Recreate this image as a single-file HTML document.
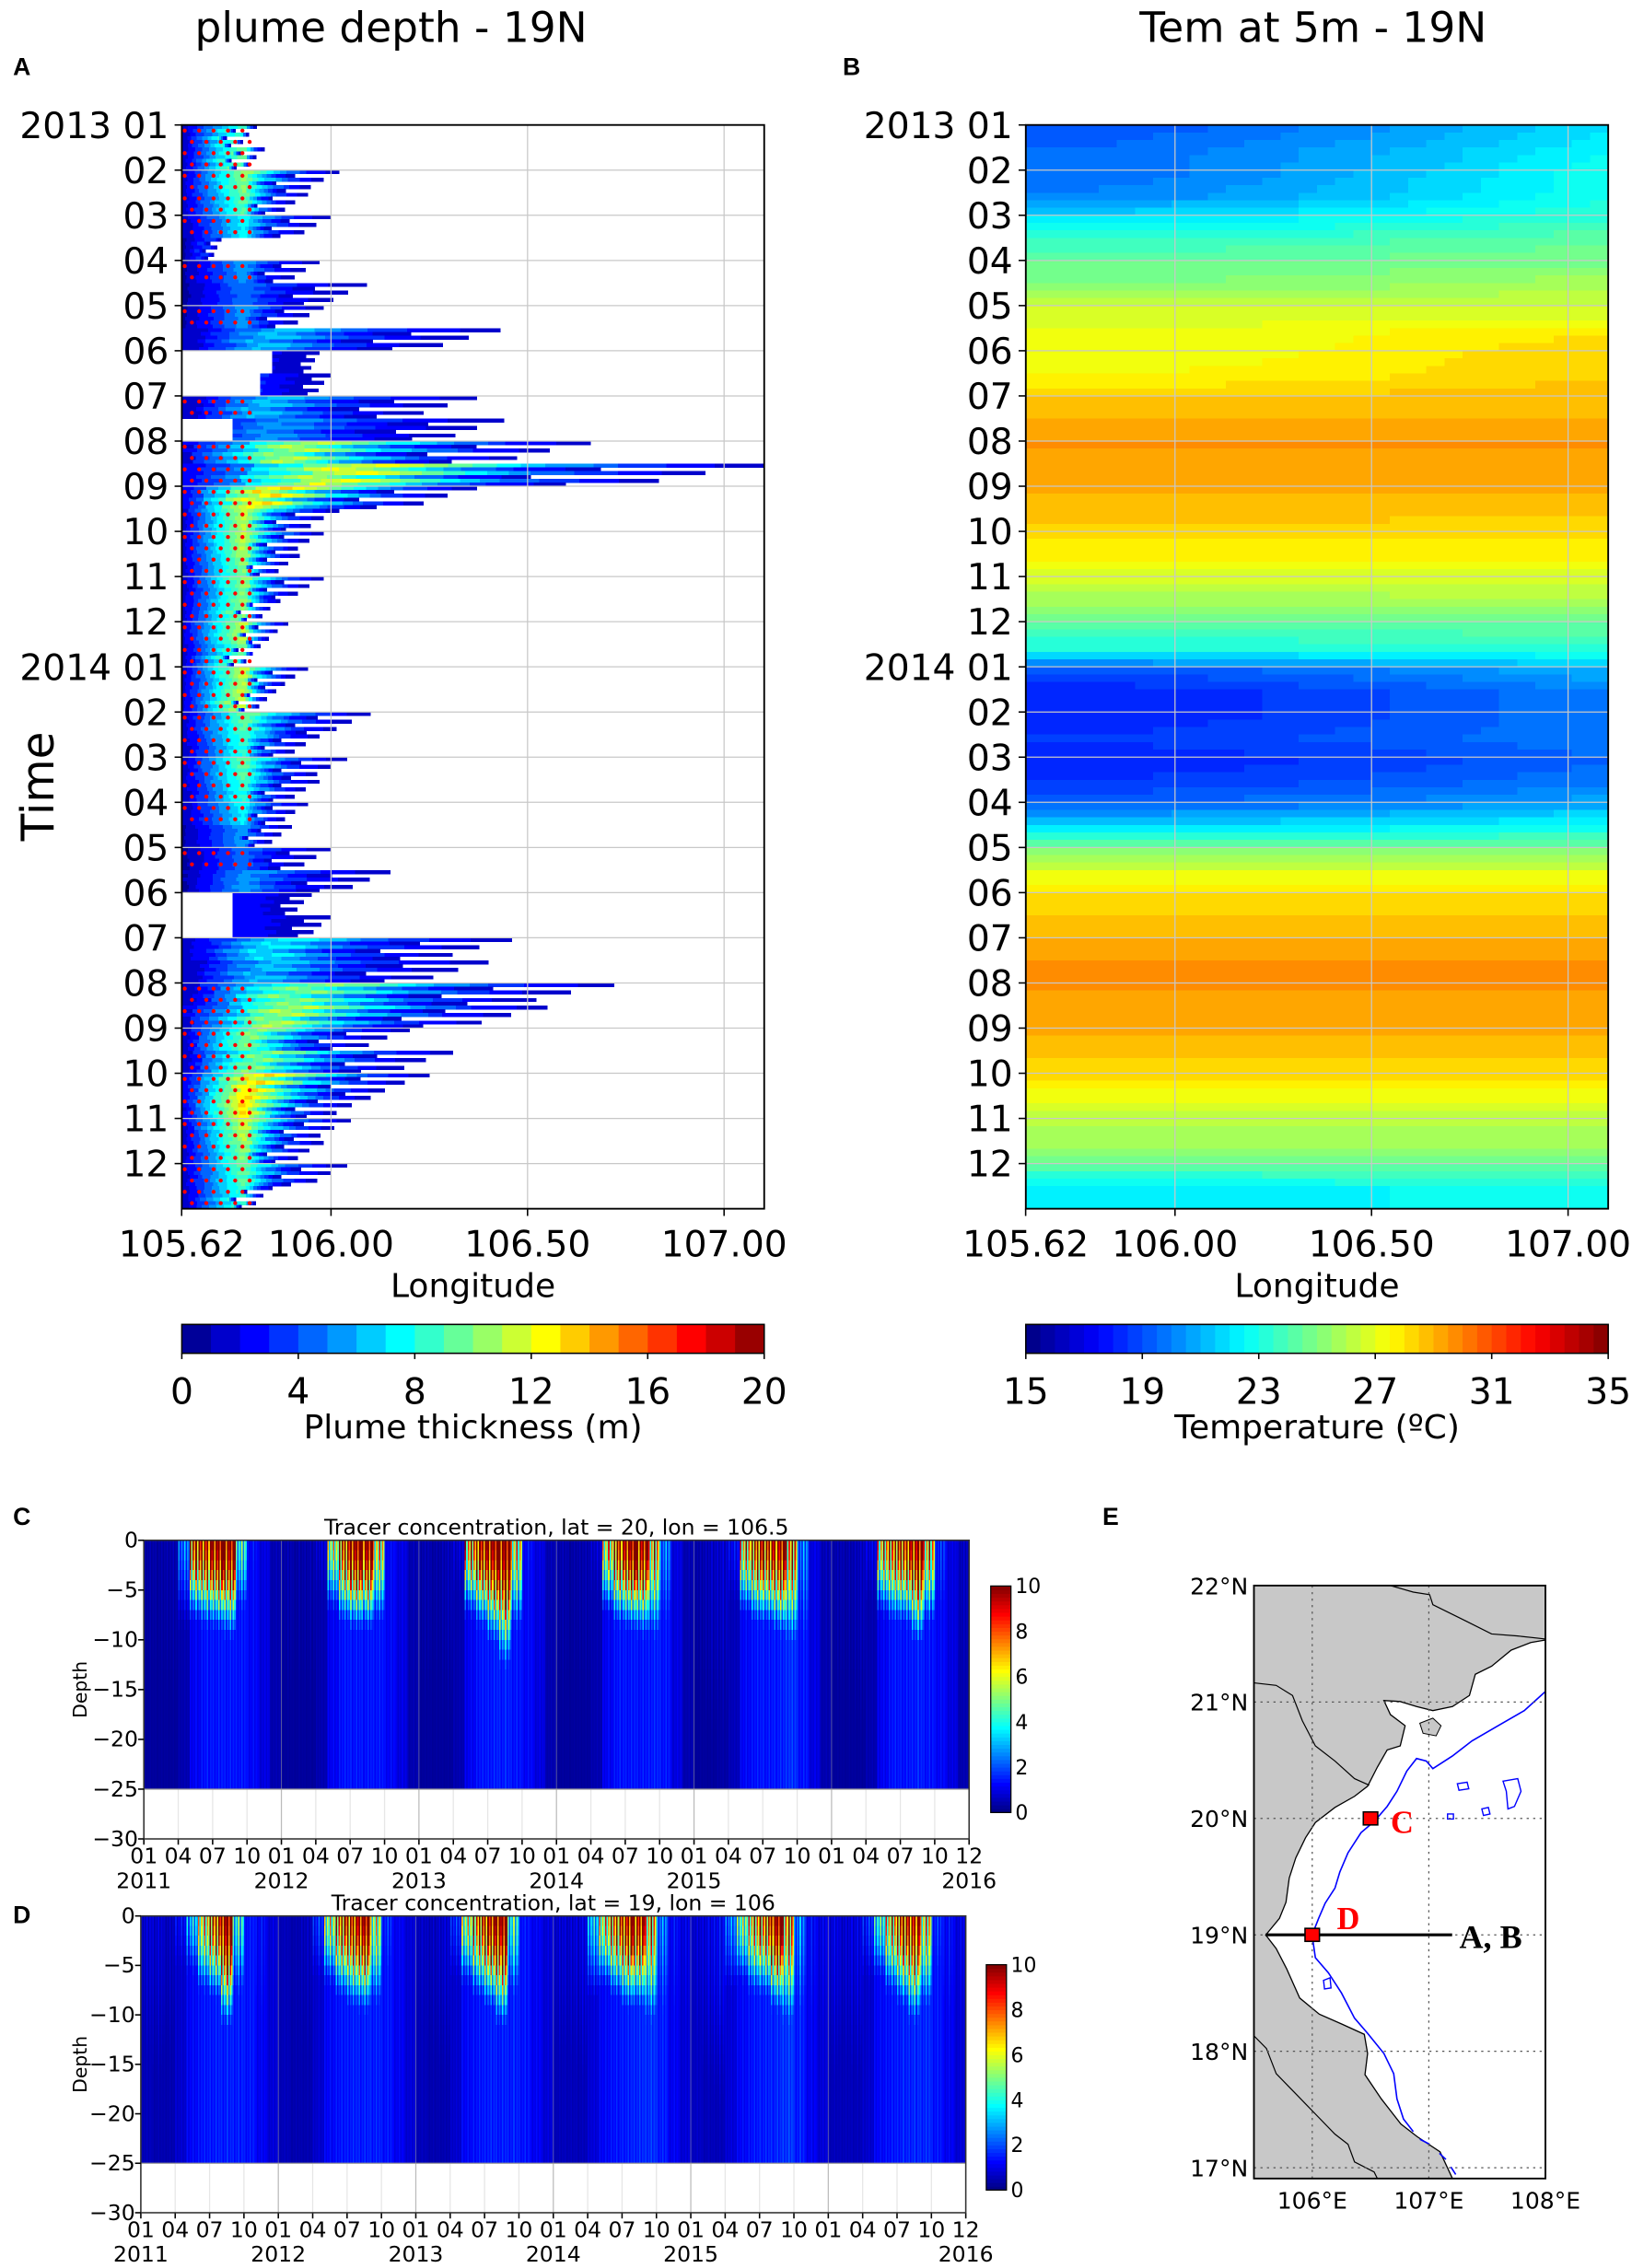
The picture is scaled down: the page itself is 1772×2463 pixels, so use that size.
<!DOCTYPE html>
<html><head><meta charset="utf-8"><title>Plume figure</title>
<style>
html,body{margin:0;padding:0;background:#fff;}
svg{display:block;font-family:"Liberation Sans","DejaVu Sans",sans-serif;}
</style></head>
<body>
<svg id="fig" xmlns="http://www.w3.org/2000/svg" width="1772" height="2463" viewBox="0 0 1131 1572">
  <rect x="0" y="0" width="1131" height="1572" fill="#fff"/>
  <text x="271" y="29" font-size="29" text-anchor="middle" font-family="DejaVu Sans, sans-serif">plume depth - 19N</text>
  <text x="910" y="29" font-size="29" text-anchor="middle" font-family="DejaVu Sans, sans-serif">Tem at 5m - 19N</text>
  <text x="9" y="52" font-size="17" font-weight="bold">A</text>
  <text x="584" y="52" font-size="17" font-weight="bold">B</text>
  <text x="9" y="1057" font-size="17" font-weight="bold">C</text>
  <text x="9" y="1333" font-size="17" font-weight="bold">D</text>
  <text x="764" y="1057" font-size="17" font-weight="bold">E</text>
  <text transform="translate(37,545) rotate(-90)" font-size="31" text-anchor="middle" font-family="DejaVu Sans, sans-serif">Time</text>
  <g id="gA"></g>
  <g id="gB"></g>
  <g id="gC"></g>
  <g id="gD"></g>
  <g id="gE"></g>
</svg>
<script>
// ---------- DATA ----------
const plumeExtent = [105.81,105.83,106.02,105.94,106.0,105.72,105.97,106.09,105.98,106.43,105.97,106.0,
  106.37,106.44,106.66,107.1,106.37,106.02,105.98,105.92,105.98,105.87,105.89,105.82,
  105.94,105.86,106.1,105.97,106.04,105.97,105.94,105.9,106.0,106.15,105.95,106.0,
  106.46,106.4,106.72,106.55,106.2,106.31,106.25,106.1,106.05,105.98,106.04,105.85];
const plumePeak = [9,10,11,10,8,4,6,5,6,7,3,4, 7,6,12,13,14,12,12,11,11,11,12,10,
  12,12,10,9,10,9,8,6,5,6,3,3, 8,7,11,12,11,11,14,14,12,11,10,9];
const plumeStart = [105.62,105.62,105.62,105.62,105.62,105.62,105.62,105.62,105.62,105.62,105.85,105.82,
  105.62,105.75,105.62,105.62,105.62,105.62,105.62,105.62,105.62,105.62,105.62,105.62,
  105.62,105.62,105.62,105.62,105.62,105.62,105.62,105.62,105.62,105.62,105.75,105.75,
  105.62,105.62,105.62,105.62,105.62,105.62,105.62,105.62,105.62,105.62,105.62,105.62];
const plumeDots = [1,1,1,1,1,0,1,0,1,0,0,0, 1,0,1,1,1,1,1,1,1,1,1,1,
  1,1,1,1,1,1,1,0,1,0,0,0, 0,0,1,1,1,1,1,1,1,1,1,1];
const tempWest = [19,19.5,19.5,20,22,23.5,24.5,25,26.5,27,27,27.5,28.5,29,29.5,29,29,29,28,27.5,26.5,25.5,24,23,
  19,18,18,18.5,18,18.5,19.5,22,25,27,28,28.5,29,29.5,29.5,29,29,28.5,28,27,26,25.5,24,22];
const tempEast = [22,22.5,23,23,23.5,24.5,25,26,26.5,28,28.5,28.5,29,29,29.5,29.5,29,28.5,28,27.5,26.5,26,24.5,23.5,
  21,20,20,20,19.5,20,21,23,25,27,28.5,28.5,29,29.5,29.5,29,29,28.5,28,27,26,25.5,24.5,23];
const monthLabelsA = ["2013 01","02","03","04","05","06","07","08","09","10","11","12",
  "2014 01","02","03","04","05","06","07","08","09","10","11","12"];
const lonTicks = [105.62,106.0,106.5,107.0];
const lonTickLabels = ["105.62","106.00","106.50","107.00"];
const thickTicks = [0,4,8,12,16,20];
const tempTicks = [15,19,23,27,31,35];
const tracerC = [0.5,0.5,0.6,3,12,14,16,16,5,1.5,0.8,0.6, 0.6,0.5,0.6,1,7,12,16,16,8,1.2,0.7,0.6,
  0.6,0.5,0.7,1,10,14,16,16,8,1.5,0.8,0.6, 0.6,0.5,0.6,1,8,13,16,15,9,3,0.8,0.6,
  0.6,0.8,1,1.5,9,12,13,15,10,3,1,0.7, 0.6,0.6,0.8,1.2,9,11,13,15,9,2,1,0.8];
const tracerD = [1,1,0.8,1.5,4,8,12,16,5,1.5,1.5,1, 0.5,0.5,0.8,2,7,11,13,16,7,2,1,0.8,
  0.8,0.8,1,2,7,11,14,16,5,1.5,1.2,1, 1,1,1.2,4,8,11,14,14,9,3,1.5,1.2,
  1,1.2,1.5,3,6,9,11,16,10,3,1.5,1.2, 1.2,1,1.2,2,5,9,12,14,8,2,1.5,1.2];
const penC = [20,20,20,7,5.5,6,6,6.5,6.5,9,20,20, 20,20,20,7,5.5,6,6,6,6.5,9,20,20, 20,20,20,7,5.5,6,7,8.5,7,9,20,20,
  20,20,20,7,5.5,6,6,6.5,7.5,10,20,20, 20,20,20,7,5.5,6,6,6.5,8,12,20,20, 20,20,20,7,5.5,6,6,7,6.5,10,20,20];
const penD = [20,20,20,7,5.5,6,6,7.5,7.5,10,20,20, 20,20,20,7,5.5,6,6.5,6.5,7.5,10,20,20, 20,20,20,7,5.5,6,6.5,7.5,7.5,10,20,20,
  20,20,20,7,5.5,6,6.5,6.5,8.5,12,20,20, 20,20,20,7,5.5,6,6,6.5,8.5,12,20,20, 20,20,20,7,5.5,6,6.5,7.5,7.5,10,20,20];
const deepC = [0.3,0.3,0.3,0.5,1.2,1.5,1.5,1.5,1.5,1.3,1.0,0.5, 0.3,0.3,0.3,0.5,1.2,1.5,1.5,1.5,1.5,1.3,1.0,0.5,
  0.3,0.3,0.3,0.5,1.2,1.5,1.6,1.6,1.5,1.3,1.0,0.5, 0.3,0.3,0.3,0.5,1.2,1.5,1.5,1.5,1.6,1.5,1.0,0.5,
  0.3,0.3,0.4,0.6,1.3,1.5,1.5,1.6,1.8,1.5,1.0,0.5, 0.3,0.3,0.3,0.5,1.2,1.5,1.5,1.6,1.5,1.3,1.0,0.5];
const deepD = [0.6,0.5,0.5,0.8,1.3,1.5,1.6,1.6,1.6,1.5,1.2,0.9, 0.6,0.5,0.5,0.8,1.3,1.5,1.6,1.6,1.6,1.5,1.2,0.9,
  0.6,0.5,0.5,0.8,1.3,1.5,1.6,1.6,1.6,1.5,1.2,0.9, 0.6,0.6,0.6,0.9,1.3,1.5,1.6,1.7,1.8,1.6,1.2,0.9,
  0.7,0.6,0.6,0.9,1.3,1.5,1.6,1.7,1.9,1.6,1.2,0.9, 0.6,0.6,0.6,0.8,1.3,1.5,1.6,1.7,1.7,1.5,1.2,0.9];
const dateTickLabels = ["01","04","07","10","01","04","07","10","01","04","07","10","01","04","07","10","01","04","07","10","01","04","07","10","12"];
const dateTickMonths = [0,3,6,9,12,15,18,21,24,27,30,33,36,39,42,45,48,51,54,57,60,63,66,69,71];
const yearLabels = ["2011","2012","2013","2014","2015","2016"];
const yearLabelMonths = [0,12,24,36,48,71];
const depthTicks = [0,-5,-10,-15,-20,-25,-30];
const tracerTicks = [0,2,4,6,8,10];

// ---------- helpers ----------
const NS='http://www.w3.org/2000/svg';
function mk(tag, attrs, parent){const e=document.createElementNS(NS,tag);for(const k in attrs)e.setAttribute(k,attrs[k]);parent.appendChild(e);return e;}
function cl(v){return Math.max(0,Math.min(1,v));}
function jet(t){t=cl(t);const r=cl(1.5-Math.abs(4*t-3)),g=cl(1.5-Math.abs(4*t-2)),b=cl(1.5-Math.abs(4*t-1));
  return 'rgb('+Math.round(r*255)+','+Math.round(g*255)+','+Math.round(b*255)+')';}
function jetD(t,n){t=cl(t);const k=Math.min(n-1,Math.floor(t*n));return jet((k+0.5)/n);}

const Y0=86.6, MH=31.3;
function yMonth(m){return Y0+m*MH;}
const AX0=126, AX1=529.6, BOFF=584.9;
function xLon(l){return 229.4+(l-106)*272.4;}

function axesAB(g, off, nm){
  const yb=yMonth(24);
  for(let m=1;m<24;m++){const l=mk('line',{x1:AX0+off,x2:AX1+off,y1:yMonth(m),y2:yMonth(m),stroke:'#c8c8c8','stroke-width':0.8},g);
    
    }
  for(let i=1;i<lonTicks.length;i++){const x=xLon(lonTicks[i])+off;const l=mk('line',{x1:x,x2:x,y1:Y0,y2:yb,stroke:'#c8c8c8','stroke-width':0.8},g);
    
    }
  const fr=mk('rect',{x:AX0+off,y:Y0,width:AX1-AX0,height:yb-Y0,fill:'none',stroke:'#000','stroke-width':1.2},g);
  
  
  for(let m=0;m<24;m++){
    const t=mk('line',{x1:AX0+off-5,x2:AX0+off,y1:yMonth(m),y2:yMonth(m),stroke:'#000','stroke-width':1},g);
    
    
    const tx=mk('text',{x:AX0+off-9,y:yMonth(m)+9,'font-size':25,'text-anchor':'end','font-family':'DejaVu Sans, sans-serif'},g);
    tx.textContent=monthLabelsA[m];
    
    
  }
  for(let i=0;i<lonTicks.length;i++){const x=xLon(lonTicks[i])+off;
    const t=mk('line',{x1:x,x2:x,y1:yb,y2:yb+5,stroke:'#000'},g);
    
    
    const tx=mk('text',{x:x,y:871,'font-size':25,'text-anchor':'middle','font-family':'DejaVu Sans, sans-serif'},g);
    tx.textContent=lonTickLabels[i];
    
    }
  const xl=mk('text',{x:(AX0+AX1)/2+off,y:899,'font-size':23,'text-anchor':'middle','font-family':'DejaVu Sans, sans-serif'},g);
  xl.textContent='Longitude';
  
  
}

function colorbar(g,off,nm,lo,hi,n,ticks,title){
  const cx0=AX0+off, cw=AX1-AX0, cy=918, ch=20;
  for(let k=0;k<n;k++){const r=mk('rect',{x:cx0+k*cw/n,y:cy,width:cw/n+0.4,height:ch,fill:jet((k+0.5)/n)},g);
    
    }
  const f=mk('rect',{x:cx0,y:cy,width:cw,height:ch,fill:'none',stroke:'#000','stroke-width':1},g);
  
  
  ticks.forEach(v=>{const x=cx0+(v-lo)/(hi-lo)*cw;
    const t=mk('line',{x1:x,x2:x,y1:cy+ch,y2:cy+ch+4,stroke:'#000'},g);
    
    
    const tx=mk('text',{x:x,y:973,'font-size':25,'text-anchor':'middle','font-family':'DejaVu Sans, sans-serif'},g);
    tx.textContent=String(v);
    
    });
  const tt=mk('text',{x:cx0+cw/2,y:997,'font-size':23,'text-anchor':'middle','font-family':'DejaVu Sans, sans-serif'},g);
  tt.textContent=title;
  
  
}

// ---------- Panel A ----------
(function(){
  const g=document.getElementById('gA');
  const hm=mk('g',{'shape-rendering':'crispEdges'},g);
  
  
  const subF=[1,0.72,0.9,0.6,0.82,0.66];
  const NSUB=subF.length;
  const rowH=MH/2, subH=rowH/NSUB, NSEG=24;
  for(let i=0;i<plumeExtent.length;i++){
    for(let s=0;s<NSUB;s++){
      const st=plumeStart[i], E=st+(plumeExtent[i]-st)*subF[s];
      const P=plumePeak[i]*(0.8+0.2*subF[s]);
      const pk=Math.min(E-0.02, Math.max(105.78, 105.62+0.35*(E-105.62)));
      const y=Y0+i*rowH+s*subH;
      for(let k=0;k<NSEG;k++){
        const a=st+(E-st)*k/NSEG, b=st+(E-st)*(k+1)/NSEG, mid=(a+b)/2;
        let t;
        if(mid<pk) t=P*(0.12+0.88*(mid-105.62)/Math.max(0.01,pk-105.62));
        else t=1.5+(P-1.5)*Math.pow(1-(mid-pk)/Math.max(0.01,E-pk),1.6);
        const r=mk('rect',{x:xLon(a),y:y,width:xLon(b)-xLon(a)+0.3,height:subH+0.2,fill:jetD(t/20,20)},hm);
        
        
      }
    }
    if(plumeDots[i]){
      for(let s=0;s<2;s++){
        const y=Y0+i*rowH+rowH*(0.25+0.5*s);
        for(let dx=128+(s?5:0);dx<Math.min(176,xLon(plumeExtent[i])-4);dx+=10){
          const c=mk('circle',{cx:dx,cy:y,r:1.4,fill:'#ff0000'},g);
          
          
        }
      }
    }
  }
  axesAB(g,0,'panel-a');
  colorbar(g,0,'plume-thickness',0,20,20,thickTicks,'Plume thickness (m)');
})();

// ---------- Panel B ----------
(function(){
  const g=document.getElementById('gB');
  const hm=mk('g',{'shape-rendering':'crispEdges'},g);
  
  
  const rowH=MH/2, NC=32, NS2=3;
  for(let i=0;i<tempWest.length;i++){
    const j=Math.min(tempWest.length-1,i+1);
    for(let s=0;s<NS2;s++){
      const f=s/NS2;
      const w=tempWest[i]+(tempWest[j]-tempWest[i])*f, e=tempEast[i]+(tempEast[j]-tempEast[i])*f;
      for(let c=0;c<NC;c++){
        const fr=(c+0.5)/NC;
        const T=w+(e-w)*Math.pow(fr,1.5);
        const r=mk('rect',{x:AX0+BOFF+c*(AX1-AX0)/NC,y:Y0+i*rowH+s*rowH/NS2,width:(AX1-AX0)/NC+0.3,height:rowH/NS2+0.3,fill:jetD((T-15)/20,40)},hm);
        
        
      }
    }
  }
  axesAB(g,BOFF,'panel-b');
  colorbar(g,BOFF,'temperature',15,35,40,tempTicks,'Temperature (ºC)');
})();

// ---------- Panels C & D ----------
function tracerPanel(gid, vals, pen, deep, L, R, top, bot30, title, cb, nm){
  const g=document.getElementById(gid);
  const xM=m=>L+(R-L)*m/72;
  const yD=d=>top+(bot30-top)*(d/-30);
  const hm=mk('g',{'shape-rendering':'crispEdges'},g);
  
  
  const stripeF=[1,0.45,0.85,0.6,1.15,0.5,0.95,0.7];
  const NSt=stripeF.length;
  for(let m=0;m<72;m++){
    for(let s=0;s<NSt;s++){
      const x=xM(m+s/NSt), w=xM(m+(s+1)/NSt)-x;
      const f=stripeF[s];
      for(let d=0;d<25;d++){
        let v=vals[m]*f*Math.exp(-Math.pow((d+0.5)/pen[m],2));
        v=Math.max(v, deep[m]*(0.55+0.5*f));
        const r=mk('rect',{x:x,y:yD(-d),width:w+0.2,height:yD(-d-1)-yD(-d)+0.2,fill:jet(v/10)},hm);
        
        
      }
    }
  }
  dateTickMonths.forEach((m,i)=>{const x=xM(m+(m===71?1:0));
    const gl=mk('line',{x1:x,x2:x,y1:yD(-25),y2:bot30,stroke:(m%12===0)?'#bbb':'#e6e6e6','stroke-width':0.8},g);
    
    
    const t=mk('line',{x1:x,x2:x,y1:bot30,y2:bot30+4,stroke:'#000'},g);
    
    
    const tx=mk('text',{x:x,y:bot30+17,'font-size':15,'text-anchor':'middle','font-family':'DejaVu Sans, sans-serif'},g);
    tx.textContent=dateTickLabels[i];
    
    });
  yearLabelMonths.forEach((m,i)=>{const x=xM(m+(m===71?1:0));
    const tx=mk('text',{x:x,y:bot30+34,'font-size':15,'text-anchor':'middle','font-family':'DejaVu Sans, sans-serif'},g);
    tx.textContent=yearLabels[i];
    
    });
  for(let y=1;y<6;y++){const x=xM(12*y);
    const l=mk('line',{x1:x,x2:x,y1:top,y2:yD(-25),stroke:'#999','stroke-width':0.6,opacity:0.6},g);
    
    }
  const ln=mk('line',{x1:L,x2:R,y1:yD(-25),y2:yD(-25),stroke:'#999','stroke-width':0.8},g);
  
  
  const fr=mk('rect',{x:L,y:top,width:R-L,height:bot30-top,fill:'none',stroke:'#333','stroke-width':1},g);
  
  
  depthTicks.forEach(d=>{const y=yD(d);
    const t=mk('line',{x1:L-4,x2:L,y1:y,y2:y,stroke:'#000'},g);
    
    
    const tx=mk('text',{x:L-4,y:y+5,'font-size':15,'text-anchor':'end','font-family':'DejaVu Sans, sans-serif'},g);
    tx.textContent=(d<0?'\u2212'+(-d):String(d));
    
    });
  const yl=mk('text',{transform:'translate(60,'+(yD(-15))+') rotate(-90)','font-size':13,'text-anchor':'middle','font-family':'DejaVu Sans, sans-serif'},g);
  yl.textContent='Depth';
  
  
  const tt=mk('text',{x:(L+R)/2,y:top-4,'font-size':15,'text-anchor':'middle','font-family':'DejaVu Sans, sans-serif'},g);
  tt.textContent=title;
  
  
  const n=60, ch=cb.y1-cb.y0;
  for(let k=0;k<n;k++){const r=mk('rect',{x:cb.x,y:cb.y1-(k+1)*ch/n,width:cb.w,height:ch/n+0.3,fill:jet((k+0.5)/n)},g);
    
    }
  const cf=mk('rect',{x:cb.x,y:cb.y0,width:cb.w,height:ch,fill:'none',stroke:'#000','stroke-width':0.8},g);
  
  
  tracerTicks.forEach(v=>{const y=cb.y1-v/10*ch;
    const tx=mk('text',{x:cb.x+cb.w+3,y:y+5,'font-size':14,'font-family':'DejaVu Sans, sans-serif'},g);
    tx.textContent=String(v);
    
    });
}
tracerPanel('gC',tracerC,penC,deepC,99.7,671.6,1067.6,1274.6,'Tracer concentration, lat = 20, lon = 106.5',{x:686.6,w:14,y0:1099.3,y1:1256.3},'tracer-c');
tracerPanel('gD',tracerD,penD,deepD,97.6,669.3,1328,1533.7,'Tracer concentration, lat = 19, lon = 106',{x:683.5,w:14,y0:1361.8,y1:1518},'tracer-d');

// ---------- Panel E map ----------
(function(){
  const g=document.getElementById('gE');
  const FX0=869, FX1=1071, FY0=1099, FY1=1510;
  const lonX=l=>FX0+(l-105.5)*(FX1-FX0)/2.5;
  const latY=a=>1099+(22-a)*80.7;
  const bg=mk('rect',{x:FX0,y:FY0,width:FX1-FX0,height:FY1-FY0,fill:'#c8c8c8'},g);
  
  
  const mg=mk('g',{transform:'translate(766.8,1021.4) scale(0.2262,0.3495)'},g);
  
  
  const sea=mk('path',{d:'M1345,330 L1300,335 L1240,350 L1180,382 L1130,398 L1112,440 L1060,462 L1000,470 L950,462 L900,452 L850,450 L870,478 L915,500 L900,540 L860,548 L830,582 L800,620 L760,640 L700,662 L640,692 L610,722 L580,762 L560,802 L550,850 L530,882 L488,915 L520,942 L552,982 L592,1040 L652,1072 L722,1092 L790,1112 L800,1150 L792,1192 L842,1240 L902,1290 L952,1315 L1022,1345 L1060,1398 L1345,1398 Z',fill:'#fff',stroke:'#000','stroke-width':1.3,'vector-effect':'non-scaling-stroke'},mg);
  
  
  const b1=mk('path',{d:'M452,415 L520,420 L570,440 L600,490 L640,540 L700,570 L760,605 L805,618',fill:'none',stroke:'#000','stroke-width':1.2,'vector-effect':'non-scaling-stroke'},mg);
  
  
  const b2=mk('path',{d:'M452,1115 L490,1140 L520,1190 L580,1230 L640,1270 L700,1310 L740,1330 L760,1365 L820,1385 L830,1398',fill:'none',stroke:'#000','stroke-width':1.2,'vector-effect':'non-scaling-stroke'},mg);
  
  
  const b3=mk('path',{d:'M870,222 L940,235 L990,240 L1000,260 L1100,292 L1180,318 L1260,322 L1345,328',fill:'none',stroke:'#000','stroke-width':1.2,'vector-effect':'non-scaling-stroke'},mg);
  
  
  const isl=mk('path',{d:'M960,495 L1000,485 L1025,500 L1010,520 L970,515 Z',fill:'#c8c8c8',stroke:'#000','stroke-width':1,'vector-effect':'non-scaling-stroke'},mg);
  
  
  const iso=mk('path',{d:'M1345,432 L1280,470 L1200,500 L1120,530 L1060,560 L1000,585 L980,570 L950,565 L920,590 L890,630 L860,660 L820,690 L780,712 L740,752 L715,790 L700,822 L670,852 L650,882 L630,915 L640,960 L680,990 L720,1030 L760,1080 L800,1110 L850,1150 L880,1190 L890,1240 L910,1280 L940,1305',fill:'none',stroke:'#0000ff','stroke-width':1.6,'vector-effect':'non-scaling-stroke'},mg);
  
  
  const iso2=mk('path',{d:'M960,1320 L990,1330 M1020,1348 L1040,1360 M1055,1375 L1070,1390',fill:'none',stroke:'#0000ff','stroke-width':1.6,'vector-effect':'non-scaling-stroke'},mg);
  
  
  const blob=mk('path',{d:'M1215,610 L1260,605 L1270,630 L1250,660 L1230,665 L1225,630 Z M1075,615 L1105,612 L1110,625 L1080,628 Z M1150,665 L1170,662 L1175,675 L1155,678 Z M665,1005 L685,1000 L688,1020 L668,1022 Z M1045,675 L1063,675 L1063,685 L1045,685 Z',fill:'none',stroke:'#0000ff','stroke-width':1.4,'vector-effect':'non-scaling-stroke'},mg);
  
  
  [106,107].forEach(l=>{const gl=mk('line',{x1:lonX(l),x2:lonX(l),y1:FY0,y2:FY1,stroke:'#555','stroke-width':0.8,'stroke-dasharray':'1.5,3'},g);
    
    });
  [21,20,19,18,17].forEach(a=>{const gl=mk('line',{x1:FX0,x2:FX1,y1:latY(a),y2:latY(a),stroke:'#555','stroke-width':0.8,'stroke-dasharray':'1.5,3'},g);
    
    });
  const fr=mk('rect',{x:FX0,y:FY0,width:FX1-FX0,height:FY1-FY0,fill:'none',stroke:'#000','stroke-width':1.2},g);
  
  
  [22,21,20,19,18,17].forEach(a=>{const tx=mk('text',{x:FX0-4,y:latY(a)+6,'font-size':16,'text-anchor':'end','font-family':'DejaVu Sans, sans-serif'},g);
    tx.textContent=a+'°N';
    
    });
  [106,107,108].forEach(l=>{const tx=mk('text',{x:lonX(l),y:1531,'font-size':16,'text-anchor':'middle','font-family':'DejaVu Sans, sans-serif'},g);
    tx.textContent=l+'°E';
    
    });
  const sec=mk('line',{x1:lonX(105.6),x2:lonX(107.2),y1:latY(19),y2:latY(19),stroke:'#000','stroke-width':2},g);
  
  
  const mc=mk('rect',{x:lonX(106.5)-5,y:latY(20)-4.5,width:10,height:9,fill:'#ff0000',stroke:'#000','stroke-width':1},g);
  
  
  const md=mk('rect',{x:lonX(106)-5,y:latY(19)-4.5,width:10,height:9,fill:'#ff0000',stroke:'#000','stroke-width':1},g);
  
  
  const lc=mk('text',{x:lonX(106.5)+14,y:latY(20)+10,'font-size':22,'font-weight':'bold',fill:'#ff0000','font-family':'Liberation Serif, serif'},g);
  lc.textContent='C';
  
  
  const ld=mk('text',{x:lonX(106)+17,y:latY(19)-4,'font-size':22,'font-weight':'bold',fill:'#ff0000','font-family':'Liberation Serif, serif'},g);
  ld.textContent='D';
  
  
  const lab=mk('text',{x:lonX(107.2)+5,y:latY(19)+9,'font-size':23,'font-weight':'bold',fill:'#000','font-family':'Liberation Serif, serif'},g);
  lab.textContent='A, B';
  
  
})();
</script>
</body></html>
